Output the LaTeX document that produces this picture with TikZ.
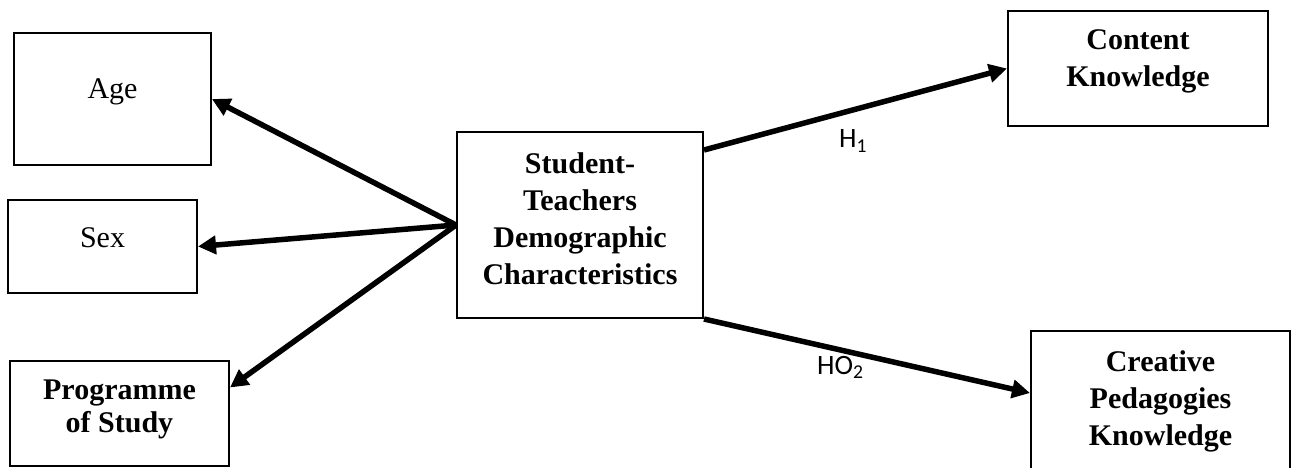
\documentclass[tikz,border=0pt]{standalone}
\usepackage{fontspec}
\setmainfont{Liberation Serif}
\newfontfamily\hypfont{Carlito}
\usetikzlibrary{arrows.meta}

\tikzset{
  box/.style={draw, line width=2pt, inner sep=0pt, align=center, font=\fontsize{30}{37}\selectfont},
  boldbox/.style={box, font=\fontsize{30}{37}\selectfont\bfseries},
  arr/.style={line width=5.5pt, -{Triangle[length=18pt,width=18pt]}},
  hyp/.style={font=\hypfont\fontsize{28}{32}\selectfont, inner sep=0pt, anchor=base west},
}

\begin{document}
\begin{tikzpicture}[x=1pt,y=-1pt]
\useasboundingbox (0,0) rectangle (1291,468);
% left side
\node[box, minimum width=197pt, minimum height=132pt, text depth=20pt] (age) at (112.5,99) {Age};
\node[box, minimum width=189pt, minimum height=93pt, text depth=17pt] (sex) at (102.5,246.5) {Sex};
\node[boldbox, minimum width=219pt, minimum height=105pt, font=\fontsize{30}{33}\selectfont\bfseries, text depth=14.3pt] (prog) at (119.5,413.5) {Programme\\of Study};
% centre
\node[boldbox, minimum width=246pt, minimum height=186pt, text depth=13.5pt] (stc) at (580,225) {Student-\\Teachers\\Demographic\\Characteristics};
% right side
\node[boldbox, minimum width=260pt, minimum height=115pt, text depth=20.7pt] (ck) at (1138,68.5) {Content\\Knowledge};
\node[boldbox, minimum width=259pt, minimum height=140pt] (cpk) at (1160.5,401) {Creative\\Pedagogies\\Knowledge};
% arrows
\draw[arr] (stc.west) -- (age.east);
\draw[arr] (stc.west) -- (sex.east);
\draw[arr] (stc.west) -- ([yshift=26pt]prog.east);
\draw[arr] ([yshift=75pt]stc.east) -- (ck.west);
\draw[arr] (stc.south east) -- ([yshift=8pt]cpk.west);
\node[hyp] (h1) at (839,148) {H\textsubscript{1}};
\node[hyp] (h02) at (817,374) {HO\textsubscript{2}};
\end{tikzpicture}
\end{document}
